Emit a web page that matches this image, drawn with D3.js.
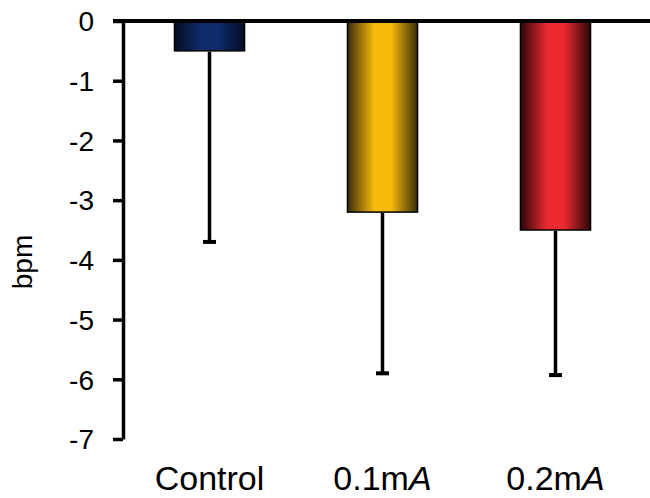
<!DOCTYPE html>
<html lang="en">
<head>
    <meta charset="UTF-8">
    <title>bpm change bar chart</title>
    <style>
        body{
            margin: 0;
            background: #fff;
        }
        text{
            font-family: "Liberation Sans", Arial, sans-serif;
            fill: #000;
        }
    </style>
    <script src="https://cdn.jsdelivr.net/npm/d3@7"></script>
</head>
<body>
<svg id="svg_main"></svg>
<script>
    // values
    const groups = ["Control", "0.1mA", "0.2mA"];
    const means = [-0.5, -3.2, -3.5];
    const errors = [3.2, 2.7, 2.43];
    const yTicks = [0, -1, -2, -3, -4, -5, -6, -7];
    // bar shading: edge colour, centre colour
    const edgeColors = ["#040c22", "#3b2c08", "#2e0608"];
    const centerColors = ["#0e2b6c", "#f6ba0c", "#ea2a30"];

    const width = 650;
    const height = 498;
    const axisX = 123;

    let svg = d3.select('#svg_main')
        .attr('width', width)
        .attr('height', height);

    let yScale = d3.scaleLinear().domain([-7, 0]).range([439, 21]);
    let xScale = d3.scaleBand()
        .domain(groups)
        .range([axisX, 642])
        .paddingInner(0.595)
        .paddingOuter(0.2975);

    // gradients, dark at the sides
    let defs = svg.append("defs");
    groups.forEach((g, i) => {
        let grad = defs.append("linearGradient")
            .attr("id", "grad" + i)
            .attr("x1", "0%").attr("x2", "100%")
            .attr("y1", "0%").attr("y2", "0%");
        grad.append("stop").attr("offset", "0%").attr("stop-color", edgeColors[i]);
        grad.append("stop").attr("offset", "38%").attr("stop-color", centerColors[i]);
        grad.append("stop").attr("offset", "62%").attr("stop-color", centerColors[i]);
        grad.append("stop").attr("offset", "100%").attr("stop-color", edgeColors[i]);
    });

    // bars
    svg.selectAll("rect.bar")
        .data(groups)
        .enter().append("rect")
        .attr("class", "bar")
        .attr("x", d => xScale(d))
        .attr("width", xScale.bandwidth())
        .attr("y", yScale(0))
        .attr("height", (d, i) => yScale(means[i]) - yScale(0))
        .attr("fill", (d, i) => "url(#grad" + i + ")")
        .attr("stroke", "#000")
        .attr("stroke-width", 1.5);

    // error bars (down only)
    let err = svg.selectAll("g.err")
        .data(groups)
        .enter().append("g")
        .attr("class", "err")
        .attr("transform", d => `translate(${xScale(d) + xScale.bandwidth() / 2},0)`);
    err.append("line")
        .attr("x1", 0).attr("x2", 0)
        .attr("y1", (d, i) => yScale(means[i]) + 1)
        .attr("y2", (d, i) => yScale(means[i] - errors[i]))
        .attr("stroke", "#000")
        .attr("stroke-width", 3.5);
    err.append("line")
        .attr("x1", -6.5).attr("x2", 6.5)
        .attr("y1", (d, i) => yScale(means[i] - errors[i]))
        .attr("y2", (d, i) => yScale(means[i] - errors[i]))
        .attr("stroke", "#000")
        .attr("stroke-width", 4);

    // y axis
    let yAxis = d3.axisLeft(yScale)
        .tickValues(yTicks)
        .tickFormat(d => d === 0 ? "0" : "-" + Math.abs(d))
        .tickSize(10)
        .tickPadding(19)
        .tickSizeOuter(0);
    let gy = svg.append("g")
        .attr("transform", `translate(${axisX},0)`)
        .call(yAxis);
    gy.select(".domain").attr("stroke", "#000").attr("stroke-width", 3.5);
    gy.selectAll(".tick line").attr("stroke", "#000").attr("stroke-width", 3.5);
    gy.selectAll(".tick text")
        .style("font-size", "28px")
        .attr("dy", "0.35em");

    // zero line along the top
    svg.append("line")
        .attr("x1", axisX - 10).attr("x2", width)
        .attr("y1", yScale(0)).attr("y2", yScale(0))
        .attr("stroke", "#000")
        .attr("stroke-width", 4);

    // category labels with italic A
    let labels = svg.selectAll("text.cat")
        .data(groups)
        .enter().append("text")
        .attr("class", "cat")
        .attr("x", d => xScale(d) + xScale.bandwidth() / 2)
        .attr("y", 490)
        .attr("text-anchor", "middle")
        .style("font-size", "34px");
    labels.each(function (d) {
        let t = d3.select(this);
        if (d.endsWith("mA")) {
            t.append("tspan").text(d.slice(0, -1));
            t.append("tspan").style("font-style", "italic").text("A");
        } else {
            t.text(d);
        }
    });

    // y label
    svg.append("text")
        .attr("transform", "translate(32,262) rotate(-90)")
        .attr("text-anchor", "middle")
        .style("font-size", "28px")
        .text("bpm");
</script>
</body>
</html>
